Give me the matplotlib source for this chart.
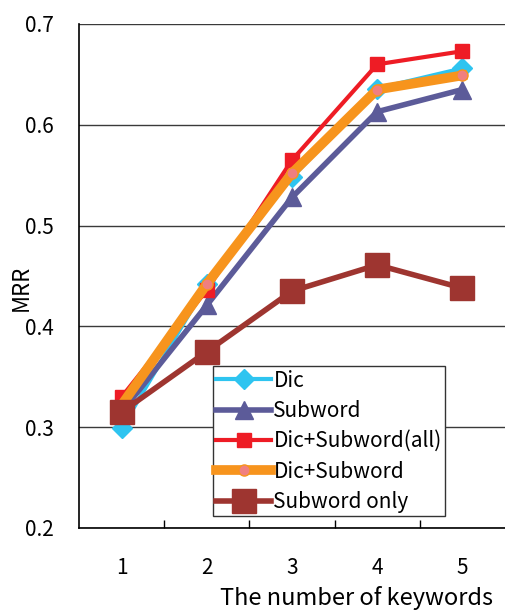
import matplotlib
matplotlib.use("Agg")
import matplotlib.pyplot as plt
from matplotlib.ticker import FixedLocator

plt.rcParams['font.family'] = ['Noto Sans CJK JP', 'DejaVu Sans']

keywords = [1, 2, 3, 4, 5]
dic = [0.299, 0.442, 0.548, 0.636, 0.656]
subword = [0.315, 0.421, 0.528, 0.613, 0.635]
dic_subword_all = [0.330, 0.436, 0.565, 0.660, 0.673]
dic_subword = [0.322, 0.442, 0.552, 0.635, 0.649]
subword_only = [0.315, 0.375, 0.435, 0.461, 0.438]

fig = plt.figure(figsize=(5.05, 6.1), dpi=100)
ax = fig.add_axes([79/505, 1 - 528/610, 1 - 79/505, (528 - 24)/610])

ax.plot(keywords, dic, color='#2ec4f0', lw=3, marker='D', ms=10,
        label='Dic', zorder=3)
ax.plot(keywords, subword, color='#5c5b99', lw=4, marker='^', ms=13,
        label='Subword', zorder=4)
ax.plot(keywords, dic_subword_all, color='#ee1c25', lw=3, marker='s', ms=10,
        label='Dic+Subword(all)', zorder=5)
ax.plot(keywords, dic_subword, color='#f7941d', lw=7, marker='o', ms=8,
        markerfacecolor='#f07f7f', markeredgecolor='#f7941d', markeredgewidth=1,
        label='Dic+Subword', zorder=6)
ax.plot(keywords, subword_only, color='#9e3530', lw=4, marker='s', ms=17,
        label='Subword only', zorder=7)

ax.set_xlim(0.5, 5.5)
ax.set_ylim(0.2, 0.7)
ax.set_yticks([0.2, 0.3, 0.4, 0.5, 0.6, 0.7])
ax.set_yticklabels(['0.2', '0.3', '0.4', '0.5', '0.6', '0.7'])
ax.set_xticks(keywords)
ax.xaxis.set_minor_locator(FixedLocator([1.5, 2.5, 3.5, 4.5]))
ax.tick_params(axis='x', which='major', length=0, pad=21, labelsize=15)
ax.tick_params(axis='x', which='minor', direction='in', length=6, width=1, color='black')
ax.tick_params(axis='y', length=0, pad=18, labelsize=15)

ax.grid(axis='y', color='#3a3a3a', lw=1)
ax.set_axisbelow(True)
for side in ['right', 'top']:
    ax.spines[side].set_visible(False)
ax.spines['left'].set_color('black')
ax.spines['bottom'].set_color('black')
ax.spines['left'].set_linewidth(1.2)
ax.spines['bottom'].set_linewidth(1.2)

fig.text(21/505, 1 - 288/610, 'MRR', fontsize=16, rotation=90,
         ha='center', va='center')
fig.text(357/505, 1 - 598/610, 'The number of keywords', fontsize=17,
         ha='center', va='center')

leg = ax.legend(loc='lower left', bbox_to_anchor=((213 - 79)/426, (528 - 516)/504),
                fontsize=15, frameon=True, fancybox=False, framealpha=1,
                edgecolor='#333333', handlelength=2.65, handletextpad=0.1,
                labelspacing=0.4, borderpad=0.15, borderaxespad=0)
leg.get_frame().set_linewidth(1)

fig.savefig('out.png', dpi=100)
